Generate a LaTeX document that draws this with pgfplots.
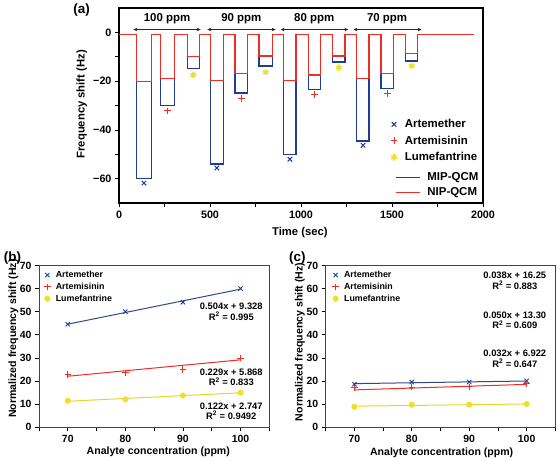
\documentclass[border=0pt]{standalone}
\usepackage{fontspec}
\setmainfont{Liberation Sans}
\usepackage{pgfplots}
\pgfplotsset{compat=1.18}
\usetikzlibrary{arrows.meta}
\definecolor{cblue}{HTML}{1F3C96}
\definecolor{cred}{HTML}{EE2D24}
\definecolor{cyel}{HTML}{F2DE26}
\definecolor{cyelline}{HTML}{EBD22E}
\definecolor{cfitblue}{HTML}{2E4A86}
\definecolor{cframe}{HTML}{444444}
\pgfplotsset{
  markleg/.style={legend image code/.code={\path (-3bp,0bp) (3bp,0bp); \draw[##1,mark repeat=1,mark phase=1] plot coordinates {(0bp,0bp)};}},
}
\begin{document}
\begin{tikzpicture}
\path (0bp,0bp) rectangle (560bp,-460bp);
%================ panel (a)
\begin{axis}[
  at={(119bp,-203bp)}, anchor=south west,
  scale only axis, width=364bp, height=195bp,
  xmin=0, xmax=2000, ymin=-70, ymax=10,
  xtick={0,250,...,2000}, xticklabels={0,,500,,1000,,1500,,2000},
  ytick={-60,-50,...,0}, yticklabels={−60,,−40,,−20,,0},
  tick align=outside, xtick pos=left, ytick pos=left,
  major tick length=4bp,
  tick style={black, line width=0.8bp},
  axis line style={line width=1.2bp, black},
  tick label style={font=\bfseries\fontsize{10.8}{12}\selectfont},
  xlabel={Time (sec)}, ylabel={Frequency shift (Hz)},
  label style={font=\bfseries\fontsize{11.3}{13}\selectfont},
  xlabel style={at={(axis description cs:0.497,-0.149)}, anchor=center},
  ylabel style={at={(axis description cs:-0.1025,0.507)}, anchor=center},
  legend style={at={(0.7445,0.432)}, anchor=north west, draw=none, fill=none,
    font=\bfseries\fontsize{11.5}{12}\selectfont, row sep=6bp, column sep=7bp,
    inner sep=0pt, nodes={inner sep=0pt, text height=8.5bp, text depth=2bp}},
  legend cell align=left,
  clip=false,
]
% MIP-QCM (blue) step trace
\addplot[cblue, line width=1.3bp, forget plot] coordinates {
 (0,-0.9) (97,-0.9) (97,-60) (178,-60) (178,-0.9)
 (229,-0.9) (229,-30) (304,-30) (304,-0.9)
 (375,-0.9) (375,-14.8) (441,-14.8) (441,-0.9)
 (504,-0.9) (504,-54) (573,-54) (573,-0.9)
 (637,-0.9) (637,-24.8) (707,-24.8) (707,-0.9)
 (769,-0.9) (769,-13.8) (842,-13.8) (842,-0.9)
 (905,-0.9) (905,-50) (972,-50) (972,-0.9)
 (1040,-0.9) (1040,-23.4) (1108,-23.4) (1108,-0.9)
 (1174,-0.9) (1174,-12.1) (1242,-12.1) (1242,-0.9)
 (1306,-0.9) (1306,-44.5) (1374,-44.5) (1374,-0.9)
 (1440,-0.9) (1440,-23) (1507,-23) (1507,-0.9)
 (1575,-0.9) (1575,-11.7) (1641,-11.7) (1641,-0.9)
 (1950,-0.9)};
% NIP-QCM (red) step trace
\addplot[cred, line width=1.3bp, forget plot] coordinates {
 (0,-0.9) (97,-0.9) (97,-20) (178,-20) (178,-0.9)
 (229,-0.9) (229,-18.8) (304,-18.8) (304,-0.9)
 (375,-0.9) (375,-10) (441,-10) (441,-0.9)
 (504,-0.9) (504,-19.6) (573,-19.6) (573,-0.9)
 (637,-0.9) (637,-16.8) (707,-16.8) (707,-0.9)
 (769,-0.9) (769,-9.6) (842,-9.6) (842,-0.9)
 (905,-0.9) (905,-19.6) (972,-19.6) (972,-0.9)
 (1040,-0.9) (1040,-17.5) (1108,-17.5) (1108,-0.9)
 (1174,-0.9) (1174,-9.6) (1242,-9.6) (1242,-0.9)
 (1306,-0.9) (1306,-18.8) (1374,-18.8) (1374,-0.9)
 (1440,-0.9) (1440,-16.8) (1507,-16.8) (1507,-0.9)
 (1575,-0.9) (1575,-8.6) (1641,-8.6) (1641,-0.9)
 (1950,-0.9)};
\addplot[only marks, mark=x, mark size=3.2bp, cblue, line width=1bp, markleg] coordinates {
 (137,-61.8) (538,-55.6) (939,-52) (1341,-46.3)};
\addlegendentry{Artemether}
\addplot[only marks, mark=+, mark size=3.4bp, cred, line width=1bp, markleg] coordinates {
 (266,-32.2) (672,-27.1) (1073,-25.5) (1474,-25.1)};
\addlegendentry{Artemisinin}
\addplot[only marks, mark=asterisk, mark size=3.2bp, cyel, line width=1.6bp, markleg] coordinates {
 (408,-17.4) (806,-16.3) (1208,-14.4) (1608,-13.7)};
\addlegendentry{Lumefantrine}
% concentration ranges
\draw[{Stealth[length=4bp,width=3.5bp]}-{Stealth[length=4bp,width=3.5bp]}, line width=0.6bp, black!85]
  (axis cs:79,1.2) -- (axis cs:449,1.2);
\draw[{Stealth[length=4bp,width=3.5bp]}-{Stealth[length=4bp,width=3.5bp]}, line width=0.6bp, black!85]
  (axis cs:485,1.2) -- (axis cs:861,1.2);
\draw[{Stealth[length=4bp,width=3.5bp]}-{Stealth[length=4bp,width=3.5bp]}, line width=0.6bp, black!85]
  (axis cs:888,1.2) -- (axis cs:1260,1.2);
\draw[{Stealth[length=4bp,width=3.5bp]}-{Stealth[length=4bp,width=3.5bp]}, line width=0.6bp, black!85]
  (axis cs:1288,1.2) -- (axis cs:1663,1.2);
\node[font=\bfseries\fontsize{11.5}{12}\selectfont] at (axis cs:264,5.6) {100 ppm};
\node[font=\bfseries\fontsize{11.5}{12}\selectfont] at (axis cs:672,5.6) {90 ppm};
\node[font=\bfseries\fontsize{11.5}{12}\selectfont] at (axis cs:1073,5.6) {80 ppm};
\node[font=\bfseries\fontsize{11.5}{12}\selectfont] at (axis cs:1473,5.6) {70 ppm};
\end{axis}
% line legend for panel (a)
\begin{axis}[
  at={(119bp,-203bp)}, anchor=south west,
  scale only axis, width=364bp, height=195bp,
  xmin=0, xmax=1, ymin=0, ymax=1, hide axis,
  legend style={at={(0.758,0.1605)}, anchor=north west, draw=none, fill=none,
    font=\bfseries\fontsize{11.5}{12}\selectfont, row sep=4.5bp, column sep=7bp,
    inner sep=0pt, nodes={inner sep=0pt, text height=8.5bp, text depth=2bp}},
  legend cell align=left,
  legend image code/.code={\draw[#1] (0bp,0bp) -- (24bp,0bp);},
]
\addlegendimage{cblue, line width=1.3bp}
\addlegendentry{MIP-QCM}
\addlegendimage{cred, line width=1.3bp}
\addlegendentry{NIP-QCM}
\end{axis}
\node[font=\bfseries\fontsize{13.5}{14}\selectfont] at (81.7bp,-9.5bp) {(a)};
%================ panel (b)
\begin{axis}[
  at={(39bp,-427.3bp)}, anchor=south west,
  scale only axis, width=230.3bp, height=162bp,
  xmin=65, xmax=105, ymin=0, ymax=70,
  axis line style={line width=1bp, cframe},
  xtick={70,80,90,100}, minor xtick={65,75,85,95,105},
  ytick={0,10,...,70},
  xticklabels={70,80,90,100}, yticklabels={0,10,20,30,40,50,60,70},
  tick align=outside, xtick pos=left, ytick pos=left,
  major tick length=4bp, minor tick length=4bp,
  tick style={black, line width=0.8bp},
  tick label style={font=\bfseries\fontsize{10.5}{12}\selectfont},
  xlabel={Analyte concentration (ppm)}, ylabel={Normalized frequency shift (Hz)},
  label style={font=\bfseries\fontsize{10.6}{12}\selectfont},
  xlabel style={at={(axis description cs:0.518,-0.151)}, anchor=center},
  ylabel style={at={(axis description cs:-0.1116,0.549)}, anchor=center},
  legend style={at={(0.0204,0.9685)}, anchor=north west, draw=none, fill=none,
    font=\bfseries\fontsize{8.9}{10}\selectfont, row sep=3bp, column sep=5bp,
    inner sep=0pt, nodes={inner sep=0pt, text height=7bp, text depth=1.8bp}},
  legend cell align=left,
  clip=false,
]
\addplot[only marks, mark=x, mark size=3bp, cblue, line width=0.9bp, markleg] coordinates {
 (70,44.6) (80,50.0) (90,54.1) (100,60.0)};
\addlegendentry{Artemether}
\addplot[only marks, mark=+, mark size=3.2bp, cred, line width=0.9bp, markleg] coordinates {
 (70,22.9) (80,23.6) (90,25.1) (100,29.9)};
\addlegendentry{Artemisinin}
\addplot[only marks, mark=*, mark size=2.8bp, cyel, draw=cyel, markleg] coordinates {
 (70,11.5) (80,12.1) (90,13.8) (100,15.0)};
\addlegendentry{Lumefantrine}
\addplot[cfitblue, line width=1bp, forget plot] coordinates {(70,44.61) (100,59.73)};
\addplot[cred, line width=1bp, forget plot] coordinates {(70,22.1) (100,29.2)};
\addplot[cyelline, line width=1bp, forget plot] coordinates {(70,11.29) (100,14.95)};
\node[align=center, font=\bfseries\fontsize{9.4}{10.5}\selectfont] at (axis cs:98.4,50.0) {0.504x + 9.328\\R\textsuperscript{2} = 0.995};
\node[align=center, font=\bfseries\fontsize{9.4}{10.5}\selectfont] at (axis cs:98.4,21.6) {0.229x + 5.868\\R\textsuperscript{2} = 0.833};
\node[align=center, font=\bfseries\fontsize{9.4}{10.5}\selectfont] at (axis cs:98.4,7.0) {0.122x + 2.747\\R\textsuperscript{2} = 0.9492};
\end{axis}
\node[font=\bfseries\fontsize{13.5}{14}\selectfont] at (12.5bp,-257.5bp) {(b)};
%================ panel (c)
\begin{axis}[
  at={(325.7bp,-427.3bp)}, anchor=south west,
  scale only axis, width=229.6bp, height=162bp,
  xmin=65, xmax=105, ymin=0, ymax=70,
  axis line style={line width=1bp, cframe},
  xtick={70,80,90,100}, minor xtick={65,75,85,95,105},
  ytick={0,10,...,70},
  xticklabels={70,80,90,100}, yticklabels={0,10,20,30,40,50,60,70},
  tick align=outside, xtick pos=left, ytick pos=left,
  major tick length=4bp, minor tick length=4bp,
  tick style={black, line width=0.8bp},
  tick label style={font=\bfseries\fontsize{10.5}{12}\selectfont},
  xlabel={Analyte concentration (ppm)}, ylabel={Normalized frequency shift (Hz)},
  label style={font=\bfseries\fontsize{10.6}{12}\selectfont},
  xlabel style={at={(axis description cs:0.505,-0.154)}, anchor=center},
  ylabel style={at={(axis description cs:-0.112,0.528)}, anchor=center},
  legend style={at={(0.0274,0.9685)}, anchor=north west, draw=none, fill=none,
    font=\bfseries\fontsize{8.9}{10}\selectfont, row sep=3bp, column sep=5bp,
    inner sep=0pt, nodes={inner sep=0pt, text height=7bp, text depth=1.8bp}},
  legend cell align=left,
  clip=false,
]
\addplot[only marks, mark=x, mark size=3bp, cblue, line width=0.9bp, markleg] coordinates {
 (70,18.7) (80,19.6) (90,19.6) (100,20.1)};
\addlegendentry{Artemether}
\addplot[only marks, mark=+, mark size=3.2bp, cred, line width=0.9bp, markleg] coordinates {
 (70,17.1) (80,17.4) (90,17.5) (100,18.8)};
\addlegendentry{Artemisinin}
\addplot[only marks, mark=*, mark size=2.8bp, cyel, draw=cyel, markleg] coordinates {
 (70,8.9) (80,9.8) (90,9.8) (100,10.1)};
\addlegendentry{Lumefantrine}
\addplot[cfitblue, line width=1bp, forget plot] coordinates {(70,18.91) (100,20.05)};
\addplot[cred, line width=1bp, forget plot] coordinates {(70,16.2) (100,18.6)};
\addplot[cyelline, line width=1bp, forget plot] coordinates {(70,9.16) (100,10.12)};
\node[align=center, font=\bfseries\fontsize{9.4}{10.5}\selectfont] at (axis cs:97.95,63.3) {0.038x + 16.25\\R\textsuperscript{2} = 0.883};
\node[align=center, font=\bfseries\fontsize{9.4}{10.5}\selectfont] at (axis cs:97.95,46.2) {0.050x + 13.30\\R\textsuperscript{2} = 0.609};
\node[align=center, font=\bfseries\fontsize{9.4}{10.5}\selectfont] at (axis cs:97.95,29.6) {0.032x + 6.922\\R\textsuperscript{2} = 0.647};
\end{axis}
\node[font=\bfseries\fontsize{13.5}{14}\selectfont] at (297.3bp,-257.5bp) {(c)};
% panel frames (top and right edges)
\draw[line width=1.2bp, black] (119bp,-8bp) -- (483bp,-8bp) -- (483bp,-203bp);
\draw[line width=1.1bp, cframe] (39bp,-265.3bp) -- (269.3bp,-265.3bp) -- (269.3bp,-427.3bp);
\draw[line width=1.1bp, cframe] (325.7bp,-265.3bp) -- (555.3bp,-265.3bp) -- (555.3bp,-427.3bp);
\end{tikzpicture}
\end{document}
